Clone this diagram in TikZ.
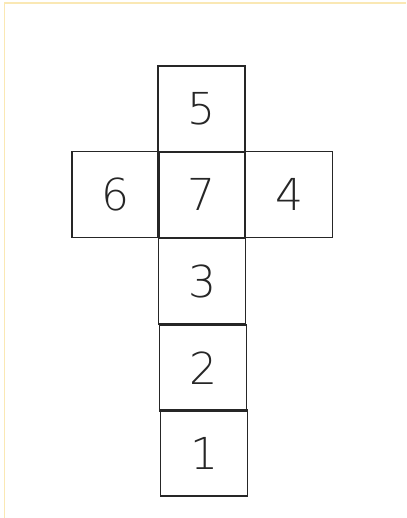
\documentclass[tikz,border=0pt]{standalone}
\usepackage{fontspec}
\setmainfont{DejaVu Sans}
\begin{document}
\begin{tikzpicture}[x=1pt,y=-1pt,
  face/.style={draw=black!85,line width=1.9pt,minimum width=87pt,minimum height=86pt,inner sep=0pt,
    font=\fontsize{44}{44}\selectfont\fontspec{DejaVu Sans ExtraLight}, text=black!85}]
\useasboundingbox (0,0) rectangle (406,518);
\fill[white] (0,0) rectangle (406,518);
\draw[color={rgb,255:red,250;green,232;blue,180},line width=1.2pt] (4.5,518) -- (4.5,3) -- (406,3);
\node[face] (f5) at (201.5,109) {5};
\node[face] (f6) at (115.5,194.5) {6};
\node[face] (f7) at (201.5,194.5) {7};
\node[face] (f4) at (289,194.5) {4};
\node[face] (f3) at (202,281) {3};
\node[face] (f2) at (203,368) {2};
\node[face] (f1) at (204,453) {1};
\end{tikzpicture}
\end{document}
